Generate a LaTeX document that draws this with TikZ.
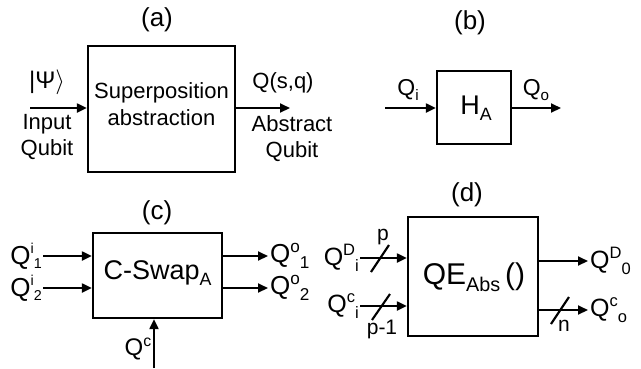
\documentclass[tikz,border=0pt]{standalone}
\usepackage{fontspec}
\setmainfont{Liberation Sans}
\usepackage{graphicx}
\usetikzlibrary{arrows.meta}
\newcommand\hi[1]{\raisebox{.40em}{\scalebox{.66}{#1}}}
\newcommand\lo[1]{\raisebox{-.24em}{\scalebox{.66}{#1}}}
\newcommand\hilo[2]{\raisebox{.42em}{\scalebox{.55}{#1}}\raisebox{-.16em}{\scalebox{.55}{#2}}}
\newcommand\fs[1]{\fontsize{#1}{#1}\selectfont}
\begin{document}
\begin{tikzpicture}[x=1pt,y=-1pt,
  blk/.style={draw,line width=2.3pt,inner sep=0pt},
  wire/.style={line width=2.1pt,-{Triangle[length=10pt,width=9pt]}},
  lab/.style={inner sep=0pt,font=\fs{22}},
  big/.style={inner sep=0pt,font=\fs{26}},
  ttl/.style={inner sep=0pt,font=\fs{26}},
  slash/.style={line width=2.1pt}]
\useasboundingbox (0,0) rectangle (641,368);
% (a)
\node[ttl] (ta) at (157,20) {(a)};
\node[blk,minimum width=147pt,minimum height=126pt] (A) at (161.5,109) {};
\node[lab,align=center] (at) at (161.5,104.5) {Superposition\\[5pt]abstraction};
\coordinate (ain) at (30,108);
\coordinate (aout) at (290,108);
\draw[wire] (ain) -- (ain -| A.west);
\draw[wire] (aout -| A.east) -- (aout);
\node[lab,font=\fs{24}] (psi) at (47,82) {|Ψ\ensuremath{\rangle}};
\node[lab,align=center] (inq) at (47,137.5) {Input\\[4pt]Qubit};
\node[lab] (qsq) at (283,83) {Q(s,q)};
\node[lab,align=center] (abq) at (292,138.5) {Abstract\\[4pt]Qubit};
% (b)
\node[ttl] (tb) at (470,23) {(b)};
\node[blk,minimum width=74pt,minimum height=73pt] (B) at (474,107.5) {};
\node[lab,font=\fs{27}] (ha) at (476,108) {H\lo{A}};
\coordinate (bin) at (385,108);
\coordinate (bout) at (561,108);
\draw[wire] (bin) -- (bin -| B.west);
\draw[wire] (bout -| B.east) -- (bout);
\node[lab,font=\fs{23}] (qi) at (408,90) {Q\lo{i}};
\node[lab,font=\fs{23}] (qo) at (536,90) {Q\lo{o}};
% (c)
\node[ttl] (tc) at (157,213) {(c)};
\node[blk,minimum width=129pt,minimum height=85pt] (C) at (157.5,275.5) {};
\node[big,font=\fs{27}] (cs) at (157.5,273) {C-Swap\lo{A}};
\coordinate (ci1) at (43,256);
\coordinate (ci2) at (43,288);
\coordinate (co1) at (268,256);
\coordinate (co2) at (268,288);
\coordinate (cc) at (154,368);
\draw[wire] (ci1) -- (ci1 -| C.west);
\draw[wire] (ci2) -- (ci2 -| C.west);
\draw[wire] (co1 -| C.east) -- (co1);
\draw[wire] (co2 -| C.east) -- (co2);
\draw[wire] (cc) -- (cc |- C.south);
\node[big,anchor=east] (lci1) at ([xshift=-1pt]ci1) {Q\hilo{i}{1}};
\node[big,anchor=east] (lci2) at ([xshift=-1pt]ci2) {Q\hilo{i}{2}};
\node[big,anchor=west] (lco1) at ([xshift=2pt]co1) {Q\hi{o}\lo{1}};
\node[big,anchor=west] (lco2) at ([xshift=2pt]co2) {Q\hi{o}\lo{2}};
\node[lab,font=\fs{24}] (lcc) at (138,349) {Q\hi{c}};
% (d)
\node[ttl] (td) at (467,195) {(d)};
\node[blk,minimum width=130pt,minimum height=119pt] (D) at (473,276.5) {};
\node[inner sep=0pt,font=\fs{30}] (qe) at (474,277) {QE\lo{Abs}\,()};
\coordinate (di1) at (360,258);
\coordinate (di2) at (360,306);
\coordinate (do1) at (588,261);
\coordinate (do2) at (588,310);
\draw[wire] (di1) -- (di1 -| D.west);
\draw[wire] (di2) -- (di2 -| D.west);
\draw[wire] (do1 -| D.east) -- (do1);
\draw[wire] (do2 -| D.east) -- (do2);
\draw[slash] (371,272) -- (389,245);
\draw[slash] (372,320) -- (390,294);
\draw[slash] (551,324) -- (569,297);
\node[lab,font=\fs{21}] (lp) at (383,237) {p};
\node[lab,font=\fs{21}] (lp1) at (382,329) {p-1};
\node[lab,font=\fs{21}] (ln) at (564,326) {n};
\node[big,font=\fs{25},anchor=east] (ldi1) at ([xshift=-1pt]di1) {Q\hi{D}\lo{i}};
\node[big,font=\fs{25},anchor=east] (ldi2) at ([xshift=-1pt]di2) {Q\hi{c}\lo{i}};
\node[big,font=\fs{25},anchor=west] (ldo1) at ([xshift=2pt]do1) {Q\hi{D}\lo{0}};
\node[big,font=\fs{25},anchor=west] (ldo2) at ([xshift=2pt]do2) {Q\hi{c}\lo{o}};
\end{tikzpicture}
\end{document}
